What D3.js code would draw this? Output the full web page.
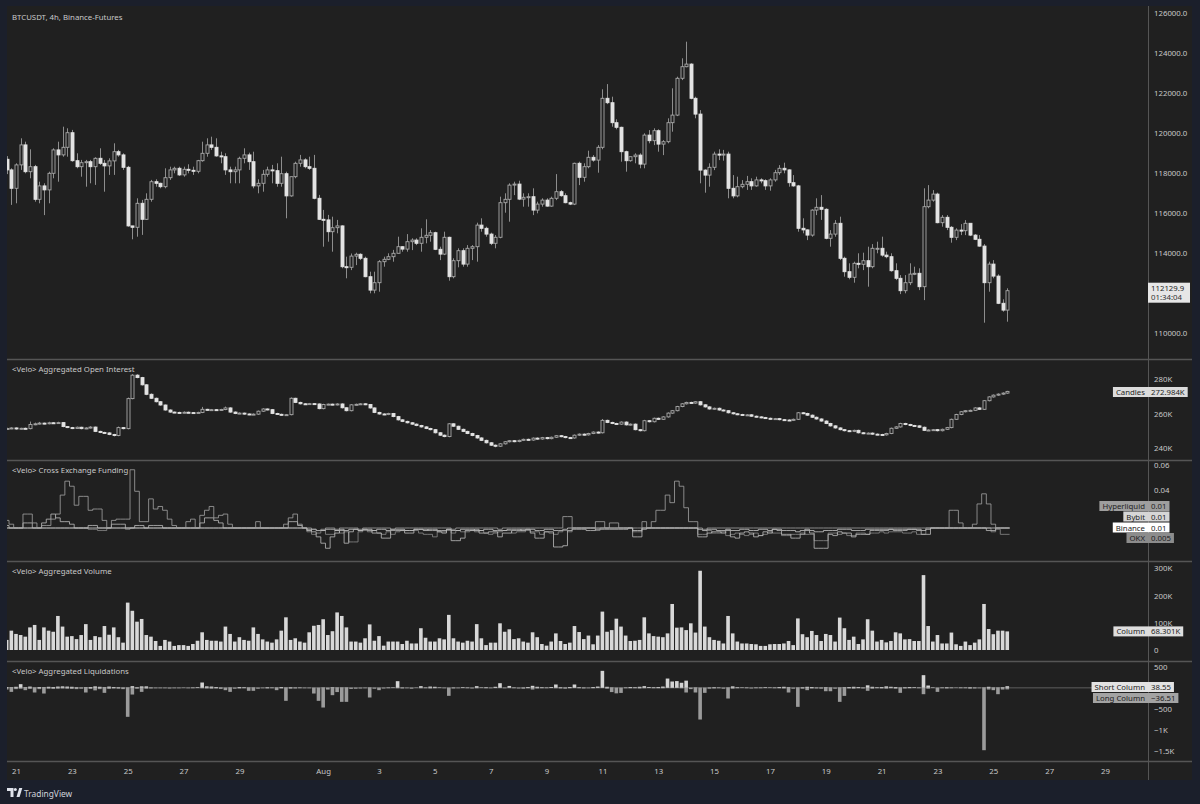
<!DOCTYPE html>
<html><head><meta charset="utf-8">
<script src="https://cdn.jsdelivr.net/npm/d3@7"></script>
<style>html,body{margin:0;padding:0;background:#1b1f2b;}svg{display:block;}</style>
</head><body><svg id="c" width="1200" height="804"></svg>
<script>
// ---------------- DATA ----------------
const firstCandleUTC = [2025, 6, 20, 16]; // Jul 20 16:00, 4h candles
const dayTicks = ["2025-07-21","2025-07-23","2025-07-25","2025-07-27","2025-07-29","2025-08-01","2025-08-03","2025-08-05","2025-08-07","2025-08-09","2025-08-11","2025-08-13","2025-08-15","2025-08-17","2025-08-19","2025-08-21","2025-08-23","2025-08-25","2025-08-27","2025-08-29"];
const dayTickLabels = ["21","23","25","27","29","Aug","3","5","7","9","11","13","15","17","19","21","23","25","27","29"];
const priceTicks = [110000,114000,116000,118000,120000,122000,124000,126000];
const oiTicks = [240,260,280];
const fundingTicks = [0.04,0.06];
const volumeTicks = [0,100,200,300];
const liqTicks = [500,-500,-1000,-1500];
const liqTickLabels = ["500","\u2212500","\u22121K","\u22121.5K"];

const priceOpen = [118700,118170,117250,118420,119420,118080,118330,116700,117370,117170,
118000,119170,118920,119300,120030,118630,118330,118530,118580,118330,
118750,118500,118370,118620,119080,118920,118300,115370,115300,116500,
115700,116700,117580,117500,117330,117780,118170,118250,117920,118200,
118150,118100,118630,119000,119420,119300,118870,118830,118170,118080,
118170,118750,118920,118580,117370,117500,117950,118170,118130,117500,
117980,116870,117830,118500,118670,118330,118250,116750,115700,115670,
115080,115280,115370,113330,113300,113860,113950,113750,112830,112160,
112530,113580,113700,113830,114000,114330,114210,114580,114660,114500,
114800,114900,115030,114200,113960,114800,112830,113630,114130,113460,
114250,114330,115410,115250,114960,114500,114800,116530,116700,117410,
117460,116710,116800,116830,116160,116460,116660,116360,116750,117080,
116880,116530,116460,118500,117800,118330,118800,118660,119300,121750,
121530,120530,120300,119080,118630,118830,118910,118460,119910,119630,
120130,119460,119580,120530,120910,122750,123330,123460,121750,120960,
118160,117910,118300,118960,118910,118960,117250,116870,117330,117450,
117580,117370,117670,117630,117370,117670,118030,118250,118170,117530,
117370,115250,115170,114910,116160,116300,116200,114750,114960,115500,
113750,113080,112800,113500,113450,113630,113330,114250,114250,113910,
113830,113130,112750,112130,112530,112960,113000,112330,116330,116660,
116960,115530,115800,115300,114800,115160,115130,115500,114910,114700,
114360,112530,113460,112860,111500,111160];
const priceHigh = [118860,118250,118500,119750,119580,119200,118420,117580,117500,118080,
119250,119580,120330,120250,120170,119000,118670,118670,118670,118800,
119250,118670,118750,119500,119170,119000,118370,115370,116750,116670,
117000,117670,117700,117530,118250,118330,118330,118330,118330,118450,
118330,118670,119580,119750,119830,119750,119080,119000,118330,118330,
118830,119250,119030,119080,117700,118170,118330,118420,118500,118830,
118080,117830,118580,118920,118750,118830,118920,116920,116170,115920,
115830,115670,115400,113830,113990,114030,114000,113830,113080,113080,
113660,113830,114000,114170,114830,114360,114960,114750,114750,115250,
115700,115160,115080,114330,115080,114830,113750,114250,114250,114410,
114410,115530,115750,115330,115030,114910,116830,117000,117500,117580,
117630,117000,117000,117250,116580,116750,116750,116830,117960,117160,
117000,116580,118530,118580,118500,119130,118910,119410,122200,122460,
121830,120700,120330,119130,118830,119000,119000,120000,120160,120250,
120200,119660,120750,122250,122830,123750,124580,123500,121830,121160,
118200,118500,119080,119200,119170,119080,117910,117830,117660,117870,
117750,117830,117750,117700,117750,118170,118410,118530,118200,117910,
117420,115750,115200,116200,116750,116910,116250,115160,115660,115830,
113830,113500,113580,114000,114030,114330,114460,114580,114830,114080,
114000,113500,112910,112910,113500,113330,113250,117250,117410,117160,
117030,115910,115910,115360,115250,115460,115660,115500,114960,114910,
114460,113580,113660,112950,111700,112250];
const priceLow = [117960,116420,116500,118170,118000,117750,116580,116500,115910,116500,
117750,117580,118830,118830,118580,118250,117830,117330,117500,117420,
118420,117080,117920,117920,118830,118170,115330,114700,114830,114920,
115670,116580,117330,117250,117250,117670,118000,117870,117830,118000,
117920,118000,118580,118830,119170,118830,118500,117920,117500,117500,
117500,118500,118170,117250,117000,117080,117830,117500,117330,117330,
115750,116830,117750,118330,118250,118170,116700,115670,114330,114580,
114080,115000,113250,112750,113160,113410,113660,112800,112000,112000,
112080,113330,113660,113580,114000,114080,114080,114160,114410,114080,
114500,114580,114160,113660,113910,112630,112750,113300,113330,113330,
113660,113580,115080,114830,114410,114250,114750,116030,115580,116910,
116660,116330,116330,115910,116000,116330,116330,116330,116660,116830,
116500,116410,116410,117410,117580,118250,118580,118030,119200,121460,
120330,120200,118580,118080,118580,118500,118250,118250,119500,119410,
119080,118910,119500,120080,120860,122660,123300,121700,120750,117500,
117030,117330,118160,118660,118630,116750,116750,116800,117250,117170,
117170,117330,117500,117170,117130,117580,117920,118000,117330,117330,
115080,115000,114660,114830,115910,115670,114700,114330,114830,113660,
112830,112700,112530,113250,113160,112330,113250,114000,113830,113750,
113080,112660,111960,112000,112410,112910,112160,111660,116250,116580,
115500,115330,115160,114530,114660,114910,114910,114860,114660,114330,
110530,112080,112750,111460,111080,110580];
const priceClose = [118170,117250,118420,119420,118080,118330,116700,117370,117170,118000,
119170,118920,119300,120030,118630,118330,118530,118580,118330,118750,
118500,118370,118620,119080,118920,118300,115370,115300,116500,115700,
116700,117580,117500,117330,117780,118170,118250,117920,118200,118150,
118100,118630,119000,119420,119300,118870,118830,118170,118080,118170,
118750,118920,118580,117370,117500,117950,118170,118130,117500,117980,
116870,117830,118500,118670,118330,118250,116750,115700,115670,115080,
115280,115370,113330,113300,113860,113950,113750,112830,112160,112530,
113580,113700,113830,114000,114330,114210,114580,114660,114500,114800,
114900,115030,114200,113960,114800,112830,113630,114130,113460,114250,
114330,115410,115250,114960,114500,114800,116530,116700,117410,117460,
116710,116800,116830,116160,116460,116660,116360,116750,117080,116880,
116530,116460,118500,117800,118330,118800,118660,119300,121750,121530,
120530,120300,119080,118630,118830,118910,118460,119910,119630,120130,
119460,119580,120530,120910,122750,123330,123460,121750,120960,118160,
117910,118300,118960,118910,118960,117250,116870,117330,117450,117580,
117370,117670,117630,117370,117670,118030,118250,118170,117530,117370,
115250,115170,114910,116160,116300,116200,114750,114960,115500,113750,
113080,112800,113500,113450,113630,113330,114250,114250,113910,113830,
113130,112750,112130,112530,112960,113000,112330,116330,116660,116960,
115530,115800,115300,114800,115160,115130,115500,114910,114700,114360,
112530,113460,112860,111500,111160,112129.9];

// Open interest (thousands)
const oiOpen = [251.3,251.5,251.8,251.2,251.6,251.4,253.8,254.2,254.6,254.3,
254.8,254.5,254.9,252.6,252.0,251.5,252.2,251.4,251.8,252.3,
249.8,249.2,248.9,248.0,247.4,252.0,251.4,268.8,282.4,281.0,
276.8,271.3,269.0,267.0,265.1,262.2,261.0,260.8,260.6,260.9,
260.7,260.5,260.8,262.6,262.2,262.4,262.1,262.5,263.4,261.0,
260.2,260.4,259.9,259.6,259.8,261.5,262.8,262.4,260.2,259.7,
259.3,259.5,269.0,266.6,265.8,265.6,265.9,265.7,263.0,265.4,
265.6,265.3,265.7,263.5,261.8,265.2,265.5,265.8,265.4,263.4,
260.8,259.9,259.6,260.2,258.4,256.5,255.6,254.8,254.0,253.2,
252.4,251.5,250.8,249.0,247.6,246.8,254.2,252.8,251.0,249.8,
248.6,247.4,246.0,244.6,243.2,241.8,241.2,242.6,243.8,244.4,
243.9,244.6,245.2,244.8,245.9,245.4,246.2,245.6,246.4,247.3,
246.8,246.2,246.0,247.6,248.2,247.8,248.6,249.4,249.0,256.2,
255.0,254.4,254.0,255.2,253.6,254.0,250.8,250.2,256.0,255.4,
257.4,256.8,258.2,260.4,261.8,264.2,265.8,266.6,266.2,267.0,
265.2,264.0,262.8,263.2,262.2,261.8,260.6,260.0,259.6,259.2,
259.4,258.6,258.2,257.8,257.4,257.0,257.2,256.6,256.4,256.2,
256.8,260.6,260.2,259.2,258.0,257.0,255.8,254.4,253.0,251.8,
250.8,250.2,249.8,250.4,249.0,248.6,248.8,248.2,248.0,247.8,
248.6,251.6,252.4,254.4,253.8,253.2,253.0,252.2,250.4,250.6,
250.8,250.2,251.0,252.0,256.8,259.6,261.2,261.8,262.0,263.4,
262.6,267.6,269.8,270.8,271.4,272.0];
const oiHigh = [251.9,252.2,252.1,251.9,252.0,255.5,254.9,255.3,254.9,255.4,
255.2,255.4,255.2,252.9,252.4,252.6,252.5,252.2,252.8,252.6,
250.2,249.6,249.3,248.4,252.6,252.3,269.4,283.0,282.9,281.4,
277.2,271.8,269.4,267.4,265.4,262.6,261.3,261.2,261.4,261.3,
261.0,261.2,264.0,262.9,262.8,262.7,262.9,264.2,263.8,261.4,
260.8,260.7,260.2,260.2,261.9,263.2,263.1,262.8,260.6,260.1,
259.9,269.5,269.3,267.0,266.2,266.3,266.2,266.0,265.8,265.9,
265.9,266.1,266.1,263.8,265.6,265.9,266.2,266.1,265.7,263.7,
261.2,260.3,260.6,260.5,258.8,256.9,256.0,255.2,254.4,253.6,
252.8,251.9,251.2,249.4,248.0,254.6,254.5,253.1,251.4,250.2,
249.0,247.8,246.4,245.0,243.6,242.2,243.0,244.2,244.8,244.8,
245.0,245.6,245.6,246.3,246.3,246.6,246.6,246.8,247.7,247.7,
247.2,246.6,248.0,248.6,248.6,249.0,249.8,249.8,257.0,256.6,
255.4,254.8,255.6,255.6,254.4,254.4,251.2,256.5,256.4,257.8,
257.8,258.6,260.8,262.2,264.6,266.2,267.0,267.0,267.4,267.4,
265.6,264.4,263.6,263.6,262.6,262.2,261.0,260.4,260.0,259.8,
259.8,259.0,258.6,258.2,257.8,257.6,257.6,257.0,256.8,257.2,
261.0,261.0,260.6,259.6,258.4,257.4,256.2,254.8,253.4,252.2,
251.2,250.6,250.8,250.8,249.4,249.2,249.2,248.6,248.4,249.0,
252.0,252.8,254.8,254.8,254.2,253.6,253.4,252.6,251.0,251.2,
251.2,251.4,252.4,257.2,260.0,261.6,262.2,262.4,263.8,263.8,
268.0,270.2,271.2,271.8,272.4,273.3];
const oiLow = [250.9,251.1,250.8,250.9,251.0,251.0,253.4,253.8,253.9,253.9,
254.1,254.1,252.2,251.7,251.1,251.2,251.0,251.1,251.5,249.4,
248.8,248.5,247.6,246.9,247.0,251.0,251.0,268.4,280.6,276.4,
270.8,268.6,266.6,264.7,261.8,260.6,260.4,260.2,260.3,260.3,
260.1,260.2,260.4,261.8,262.0,261.7,261.8,262.1,260.6,259.8,
259.8,259.5,259.2,259.3,259.4,261.1,262.0,259.8,259.3,258.9,
259.0,259.1,266.2,265.4,265.2,265.2,265.3,262.6,262.6,265.0,
264.9,264.9,263.1,261.4,261.4,264.8,265.1,265.0,263.0,260.4,
259.5,259.2,259.2,258.0,256.1,255.2,254.4,253.6,252.8,252.0,
251.1,250.4,248.6,247.2,246.4,246.4,252.4,250.6,249.4,248.2,
247.0,245.6,244.2,242.8,241.4,240.6,240.8,242.2,243.4,243.5,
243.5,244.2,244.4,244.4,245.0,245.0,245.2,245.2,246.0,246.4,
245.8,245.6,245.6,247.2,247.4,247.4,248.2,248.6,248.6,254.6,
254.0,253.6,253.6,253.2,253.2,250.4,249.8,249.8,255.0,255.0,
256.4,256.4,257.8,260.0,261.4,263.8,265.4,265.8,265.8,264.8,
263.6,262.4,262.4,261.8,261.4,260.2,259.6,259.2,258.8,258.8,
258.2,257.8,257.4,257.0,256.6,256.6,256.2,256.0,255.8,255.8,
256.4,259.8,258.8,257.6,256.6,255.4,254.0,252.6,251.4,250.4,
249.8,249.4,249.4,248.6,248.2,248.2,247.8,247.6,247.4,247.4,
248.2,251.2,252.0,253.4,252.8,252.6,251.8,250.0,250.0,250.2,
249.8,249.8,250.6,251.6,256.4,259.2,260.8,261.4,261.6,262.2,
262.2,267.2,269.4,270.4,271.0,271.6];
const oiClose = [251.5,251.8,251.2,251.6,251.4,253.8,254.2,254.6,254.3,254.8,
254.5,254.9,252.6,252.0,251.5,252.2,251.4,251.8,252.3,249.8,
249.2,248.9,248.0,247.4,252.0,251.4,268.8,282.4,281.0,276.8,
271.3,269.0,267.0,265.1,262.2,261.0,260.8,260.6,260.9,260.7,
260.5,260.8,262.6,262.2,262.4,262.1,262.5,263.4,261.0,260.2,
260.4,259.9,259.6,259.8,261.5,262.8,262.4,260.2,259.7,259.3,
259.5,269.0,266.6,265.8,265.6,265.9,265.7,263.0,265.4,265.6,
265.3,265.7,263.5,261.8,265.2,265.5,265.8,265.4,263.4,260.8,
259.9,259.6,260.2,258.4,256.5,255.6,254.8,254.0,253.2,252.4,
251.5,250.8,249.0,247.6,246.8,254.2,252.8,251.0,249.8,248.6,
247.4,246.0,244.6,243.2,241.8,241.2,242.6,243.8,244.4,243.9,
244.6,245.2,244.8,245.9,245.4,246.2,245.6,246.4,247.3,246.8,
246.2,246.0,247.6,248.2,247.8,248.6,249.4,249.0,256.2,255.0,
254.4,254.0,255.2,253.6,254.0,250.8,250.2,256.0,255.4,257.4,
256.8,258.2,260.4,261.8,264.2,265.8,266.6,266.2,267.0,265.2,
264.0,262.8,263.2,262.2,261.8,260.6,260.0,259.6,259.2,259.4,
258.6,258.2,257.8,257.4,257.0,257.2,256.6,256.4,256.2,256.8,
260.6,260.2,259.2,258.0,257.0,255.8,254.4,253.0,251.8,250.8,
250.2,249.8,250.4,249.0,248.6,248.8,248.2,248.0,247.8,248.6,
251.6,252.4,254.4,253.8,253.2,253.0,252.2,250.4,250.6,250.8,
250.2,251.0,252.0,256.8,259.6,261.2,261.8,262.0,263.4,262.6,
267.6,269.8,270.8,271.4,272.0,272.984];

// Funding rates in thousandths of a percent (10 = 0.01%)
const fundingHyperliquid = [16,13,10,10,21,21,14,10,12,12,17,21,36,47,43,28,35,35,24,25,
25,16,10,16,17,17,17,56,39,15,15,33,25,27,24,17,12,10,10,15,
17,10,20,24,27,18,20,21,13,10,10,10,10,10,15,10,10,10,10,10,
13,18,21,13,10,10,9,8,9,10,10,9,10,10,10,10,9,10,10,10,
10,10,10,9,10,10,10,10,10,10,10,10,10,10,10,10,9,10,10,10,
10,10,10,10,10,10,9,10,10,10,10,10,10,10,10,10,10,10,10,10,
19,19,10,10,10,10,10,15,15,10,14,14,10,10,10,10,10,15,10,15,
24,24,36,30,47,43,26,15,15,10,9,10,10,10,10,10,10,10,10,10,
10,10,10,10,10,10,10,10,10,10,10,10,10,10,10,10,10,10,10,10,
10,10,10,10,10,10,10,10,10,10,10,10,10,10,10,10,10,10,10,10,
10,10,10,24,24,14,10,10,13,29,37,29,13,10,10,10];
const fundingBybit = [12,10,10,10,14,14,10,10,14,17,21,18,15,15,13,10,10,10,12,12,
10,10,10,13,13,13,10,10,12,12,10,12,12,12,10,10,10,10,10,10,
10,10,14,18,18,16,14,10,10,10,10,10,10,10,10,10,10,10,10,10,
10,15,15,12,10,9,7,3,-2,-6,3,6,8,-2,7,9,8,9,8,6,
6,2,2,8,8,8,6,6,9,9,9,8,8,7,6,9,0,0,2,8,
8,9,6,6,7,7,3,6,6,8,8,9,9,6,2,2,7,7,-5,-5,
-4,8,9,9,9,8,8,9,9,9,9,9,9,9,10,3,3,9,10,10,
10,10,10,10,10,10,10,10,10,3,3,6,7,7,6,8,3,2,6,7,
6,3,4,7,6,9,8,5,5,2,2,5,8,6,-6,-6,-6,5,4,7,
6,6,3,5,5,5,8,8,8,8,9,8,8,8,9,9,8,5,5,10,
10,10,10,10,10,10,10,10,10,10,10,8,8,10,10,10];
const fundingBinance = [10,10,10,10,10,10,10,10,10,10,10,10,10,10,10,10,10,10,10,10,
10,10,10,10,10,10,10,10,10,10,10,10,10,10,10,10,10,10,10,10,
10,10,10,10,10,10,10,10,10,10,10,10,10,10,10,10,10,10,10,10,
10,10,10,10,10,8,9,8,8,9,9,8,9,8,9,9,8,9,9,8,
9,9,8,9,9,9,8,8,9,9,8,9,9,8,8,9,8,8,9,9,
9,8,8,9,9,8,8,8,9,9,9,8,9,9,8,8,9,9,8,8,
9,10,10,10,10,10,10,10,10,10,10,10,10,10,10,8,8,10,10,10,
10,10,10,10,10,10,10,10,10,9,8,9,9,8,8,9,8,8,9,9,
8,8,9,9,8,9,9,8,8,8,7,8,9,8,7,7,8,8,8,9,
9,9,8,8,8,9,9,9,9,9,9,9,9,9,9,9,9,8,9,10,
10,10,10,10,10,10,10,10,10,10,10,10,10,10,10,10];
const fundingOKX = [10,10,10,10,10,10,10,10,10,10,10,10,10,10,10,10,10,10,9,9,
8,8,10,10,10,10,9,10,10,10,10,10,10,10,10,10,10,10,10,10,
10,10,10,10,10,10,10,10,10,10,10,10,10,10,10,10,10,10,10,10,
10,10,10,10,10,7,5,6,8,5,5,8,6,7,-1,-1,7,8,7,8,
6,5,7,5,7,8,8,8,8,6,5,5,3,7,7,8,6,8,7,7,
8,7,8,6,5,6,7,8,8,6,7,7,8,7,7,5,7,6,5,7,
8,7,10,10,10,10,10,8,10,10,10,10,10,10,10,7,7,10,10,10,
10,10,10,10,10,10,10,10,10,5,5,8,6,6,7,4,5,6,5,4,
5,6,4,5,7,6,6,4,4,5,5,6,5,5,0,0,0,6,6,5,
6,4,4,6,6,5,6,6,7,6,7,7,7,6,6,7,5,5,10,10,
10,10,10,10,10,10,10,10,10,10,10,10,7,9,5,5];

// Aggregated volume (thousands)
const volume = [37,71,59,55,49,83,92,37,83,71,67,125,86,49,51,40,55,95,37,51,
47,88,56,83,47,27,174,144,104,114,55,49,33,15,37,31,15,18,18,15,
22,34,65,37,34,34,31,86,59,31,47,37,34,83,59,39,31,27,39,71,
120,37,43,31,27,65,89,92,113,55,69,138,125,83,31,31,27,43,94,34,
51,16,31,31,31,22,34,24,24,80,45,31,31,43,39,129,43,31,27,34,
31,95,43,18,27,27,98,67,76,40,43,31,27,65,47,22,16,31,61,33,
22,27,88,66,40,53,21,53,141,67,73,115,86,53,33,34,37,120,61,51,
49,47,61,169,82,83,73,98,64,291,86,47,37,34,24,125,61,31,24,24,
22,21,15,15,21,22,22,24,33,18,116,58,47,70,55,33,59,55,31,119,
80,37,49,22,39,113,71,31,37,28,33,65,61,39,40,33,33,275,88,31,
55,24,24,64,21,15,31,18,27,39,169,77,58,71,71,68.301];

// Aggregated liquidations
const liqShort = [20,15,25,87,15,30,10,20,15,25,20,30,35,30,25,15,10,15,20,35,
25,15,30,20,15,10,10,40,15,35,35,10,5,5,5,5,5,5,5,5,
10,15,126,35,30,20,10,5,10,5,20,15,10,10,5,5,15,10,10,20,
10,15,10,10,5,5,5,5,10,5,15,10,10,10,5,5,5,5,10,5,
5,5,10,10,158,10,5,5,5,40,10,30,25,10,5,5,10,5,15,10,
5,40,10,15,5,25,110,5,45,10,5,10,20,48,25,15,10,20,79,15,
10,20,79,15,10,5,20,30,402,25,10,5,5,10,20,15,25,40,20,15,
20,30,220,150,160,120,170,5,10,5,5,10,15,10,5,10,35,15,10,10,
5,10,10,15,10,10,20,25,15,5,10,15,25,20,10,10,15,10,5,10,
15,20,25,20,10,60,25,15,20,35,25,20,10,15,20,15,10,300,55,10,
5,10,15,10,5,10,10,15,10,5,10,25,10,10,15,38.55];
const liqLong = [40,95,30,20,55,25,110,30,134,20,25,20,15,20,25,30,20,110,25,60,
30,118,25,15,20,30,685,158,20,95,20,15,10,10,10,15,10,10,5,10,
10,5,10,15,20,15,25,55,95,20,15,10,70,70,20,10,15,10,55,15,
307,20,15,10,10,10,134,307,465,40,173,100,331,331,25,20,15,10,228,20,
55,15,10,5,10,15,10,20,5,10,10,15,10,5,10,189,15,10,5,10,
15,10,5,10,10,5,5,10,5,10,15,20,10,40,15,10,10,5,10,15,
20,10,5,10,15,10,10,5,5,20,100,130,120,10,10,10,15,10,5,10,
10,10,5,5,5,10,110,30,110,749,118,20,15,10,20,252,20,10,5,10,
15,10,10,5,5,10,10,15,110,20,449,20,55,15,15,20,80,80,20,331,
190,15,20,10,15,70,20,10,15,20,10,20,118,15,10,5,10,150,20,5,
95,10,15,10,5,10,10,20,15,10,1474,40,55,150,40,36.51];

// ---------------- DRAWING ----------------
const C = {
  frame:"#1b1f2b", bg:"#202020", sep:"#555555", text:"#c8c8c8",
  up:"#a9a9a9", down:"#e3e3e3", wick:"#8d8d8d"
};
const FONT = "'Noto Sans', 'DejaVu Sans', sans-serif";
const svg = d3.select("#c");
const L = 7, R = 1148, AX = 1192;
const panes = {
  price:{t:6,b:359}, oi:{t:360,b:460}, fund:{t:461,b:561}, vol:{t:562,b:661}, liq:{t:662,b:761}
};

svg.append("rect").attr("width",1200).attr("height",804).attr("fill",C.frame);
svg.append("rect").attr("x",L).attr("y",6).attr("width",AX-L).attr("height",774).attr("fill",C.bg);

const N = priceClose.length;
const t0 = Date.UTC(...firstCandleUTC);
const dates = d3.range(N).map(i => new Date(t0 + i*4*3600e3));
const x = d3.scaleUtc().domain([new Date(Date.UTC(2025,6,21)), new Date(Date.UTC(2025,7,29))]).range([16,1105]);
const step = x(new Date(t0+4*3600e3)) - x(new Date(t0));

const yP = d3.scaleLinear().domain([110000,126000]).range([333.3,13.3]);
const yOI = d3.scaleLinear().domain([240,280]).range([448.3,379.3]);
const yF = d3.scaleLinear().domain([0.01,0.06]).range([528,464.7]);
const yV = d3.scaleLinear().domain([0,300]).range([650,568.3]);
const yL = d3.scaleLinear().domain([-1500,500]).range([751.3,666.7]);

const defs = svg.append("defs");
Object.entries(panes).forEach(([k,p])=>{
  defs.append("clipPath").attr("id","clip-"+k).append("rect")
    .attr("x",L).attr("y",p.t).attr("width",R-L).attr("height",p.b-p.t);
});
function paneG(k){ return svg.append("g").attr("clip-path","url(#clip-"+k+")"); }

function candles(g, O, H, Lo, Cl, y, bw){
  const idx = d3.range(O.length);
  g.selectAll("line.w").data(idx).join("line")
    .attr("x1",i=>Math.round(x(dates[i]))+0.5).attr("x2",i=>Math.round(x(dates[i]))+0.5)
    .attr("y1",i=>y(H[i])).attr("y2",i=>y(Lo[i]))
    .attr("stroke",C.wick).attr("stroke-width",1);
  g.selectAll("rect.b").data(idx).join("rect")
    .attr("x",i=>Math.round(x(dates[i]))+0.5-bw/2)
    .attr("y",i=>Math.min(y(O[i]),y(Cl[i])))
    .attr("width",bw)
    .attr("height",i=>Math.max(1,Math.abs(y(O[i])-y(Cl[i]))))
    .attr("fill",i=>Cl[i]>=O[i]?C.bg:C.down)
    .attr("stroke",i=>Cl[i]>=O[i]?C.up:C.down)
    .attr("stroke-width",0.9);
}

// price
candles(paneG("price"), priceOpen, priceHigh, priceLow, priceClose, yP, 3);
// OI
candles(paneG("oi"), oiOpen, oiHigh, oiLow, oiClose, yOI, 3);

// funding step lines
const gF = paneG("fund");
const fundSeries = [
  {name:"OKX", data:fundingOKX, color:"#8a8a8a"},
  {name:"Binance", data:fundingBinance, color:"#c9c9c9"},
  {name:"Bybit", data:fundingBybit, color:"#bdbdbd"},
  {name:"Hyperliquid", data:fundingHyperliquid, color:"#a3a3a3"}
];
fundSeries.forEach(s=>{
  const pts = s.data.map((v,i)=>[x(dates[i])-step/2, yF(v/1000)]);
  pts.push([x(dates[N-1])+step/2, yF(s.data[N-1]/1000)]);
  gF.append("path").attr("d", d3.line().curve(d3.curveStepAfter)(pts))
    .attr("fill","none").attr("stroke",s.color).attr("stroke-width",0.8);
});

// volume
const gV = paneG("vol");
gV.selectAll("rect").data(volume).join("rect")
  .attr("x",(d,i)=>x(dates[i])-1.8).attr("width",3.6)
  .attr("y",d=>yV(d)).attr("height",d=>yV(0)-yV(d))
  .attr("fill","#d8d8d8");

// liquidations
const gL = paneG("liq");
gL.append("line").attr("x1",L).attr("x2",R).attr("y1",yL(0)).attr("y2",yL(0)).attr("stroke","#6e6e6e").attr("stroke-width",0.8);
gL.selectAll("rect.s").data(liqShort).join("rect").attr("class","s")
  .attr("x",(d,i)=>x(dates[i])-1.8).attr("width",3.6)
  .attr("y",d=>yL(d)).attr("height",d=>yL(0)-yL(d)).attr("fill","#d4d4d4");
gL.selectAll("rect.l").data(liqLong).join("rect").attr("class","l")
  .attr("x",(d,i)=>x(dates[i])-1.8).attr("width",3.6)
  .attr("y",yL(0)).attr("height",d=>yL(-d)-yL(0)).attr("fill","#9b9b9b");

// separators
[359.5,460.5,561.5,661.5,761.5].forEach(yy=>{
  svg.append("line").attr("x1",L).attr("x2",AX).attr("y1",yy).attr("y2",yy).attr("stroke",C.sep).attr("stroke-width",1.5);
});
svg.append("line").attr("x1",R+0.5).attr("x2",R+0.5).attr("y1",6).attr("y2",780).attr("stroke",C.sep).attr("stroke-width",1);

// axes
function yAxis(scale, ticks, fmt){
  const g = svg.append("g").attr("transform",`translate(${R+3},0)`)
    .call(d3.axisRight(scale).tickValues(ticks).tickFormat(fmt).tickSize(0));
  g.select(".domain").remove();
  g.selectAll("text").attr("fill",C.text).attr("font-family",FONT).attr("font-size",7.8).attr("dx",0);
}
yAxis(yP, priceTicks, d=>d3.format(".1f")(d));
yAxis(yOI, oiTicks, d=>d+"K");
yAxis(yF, fundingTicks, d=>d3.format(".2f")(d));
yAxis(yV, volumeTicks, d=>d===0?"0":d+"K");
yAxis(yL, liqTicks, (d,i)=>liqTickLabels[i]);

const gx = svg.append("g").attr("transform","translate(0,767)")
  .call(d3.axisBottom(x).tickValues(dayTicks.map(s=>new Date(s+"T00:00:00Z"))).tickFormat((d,i)=>dayTickLabels[i]).tickSize(0));
gx.select(".domain").remove();
gx.selectAll("text").attr("fill",C.text).attr("font-family",FONT).attr("font-size",7.8).attr("dy","0.32em").attr("y",4);

// pane titles
function txt(xx,yy,s,opt={}){
  return svg.append("text").attr("x",xx).attr("y",yy).text(s)
    .attr("fill",opt.fill||C.text).attr("font-family",FONT).attr("font-size",opt.size||7.8)
    .attr("text-anchor",opt.anchor||"start").attr("dominant-baseline","central");
}
txt(12,17,"BTCUSDT, 4h, Binance-Futures");
txt(12,369,"<Velo> Aggregated Open Interest");
txt(12,470,"<Velo> Cross Exchange Funding");
txt(12,571,"<Velo> Aggregated Volume");
txt(12,671,"<Velo> Aggregated Liquidations");

// value tags
function tag(name, value, yc, bg){
  const g = svg.append("g");
  if(name){
    const t = txt(0,yc,name,{fill:"#1e1e1e",anchor:"end"});
    const w = t.node().getComputedTextLength();
    g.append("rect").attr("x",R-w-6).attr("y",yc-5).attr("width",w+6).attr("height",10).attr("fill",bg);
    t.attr("x",R-3).raise();
  }
  const tv = txt(R+3,yc,value,{fill:"#1e1e1e"});
  const wv = tv.node().getComputedTextLength();
  g.append("rect").attr("x",R).attr("y",yc-5).attr("width",wv+6).attr("height",10).attr("fill",bg);
  tv.raise();
}
// last price tag
(function(){
  const yc = yP(priceClose[N-1]);
  svg.append("rect").attr("x",R).attr("y",yc-8).attr("width",42).attr("height",20).attr("fill","#e6e6e6");
  txt(R+3,yc-2.5,"112129.9",{fill:"#1e1e1e"});
  txt(R+3,yc+6.5,"01:34:04",{fill:"#333"});
})();
tag("Candles","272.984K",392,"#dcdcdc");
tag("Hyperliquid","0.01",506,"#9e9e9e");
tag("Bybit","0.01",516.5,"#d6d6d6");
tag("Binance","0.01",527.5,"#ffffff");
tag("OKX","0.005",538,"#8c8c8c");
tag("Column","68.301K",yV(volume[N-1]),"#dedede");
tag("Short Column","38.55",687,"#e2e2e2");
tag("Long Column","\u221236.51",698,"#a3a3a3");

// TradingView logo
const lg = svg.append("g").attr("transform","translate(7,788)");
lg.append("path").attr("d","M0 0 H6.5 V9 H3.5 V3 H0 Z").attr("fill","#e0e3eb");
lg.append("circle").attr("cx",8.3).attr("cy",1.6).attr("r",1.5).attr("fill","#e0e3eb");
lg.append("path").attr("d","M9.5 9 L12.2 0 H15.3 L12.6 9 Z").attr("fill","#e0e3eb");
svg.append("text").attr("x",24).attr("y",793).text("TradingView").attr("fill","#d1d4dc")
  .attr("font-family",FONT).attr("font-size",8.4).attr("dominant-baseline","central");
</script></body></html>
